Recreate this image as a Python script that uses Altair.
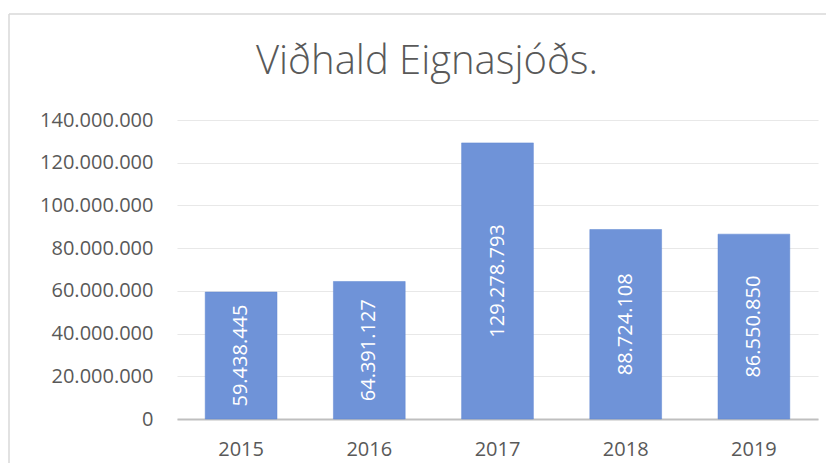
import altair as alt
import pandas as pd

years = ["2015", "2016", "2017", "2018", "2019"]
values = [59438445, 64391127, 129278793, 88724108, 86550850]
value_labels = ["59.438.445", "64.391.127", "129.278.793", "88.724.108", "86.550.850"]
title_text = "Viðhald Eignasjóðs."
y_ticks = [0, 20000000, 40000000, 60000000, 80000000, 100000000, 120000000, 140000000]

df = pd.DataFrame({"year": years, "value": values, "label": value_labels})
df["half"] = df["value"] / 2

W, H = 641, 299
FONT = "Open Sans"
GREY = "#595959"

x_scale = alt.Scale(paddingInner=0.44, paddingOuter=0.22)
x_enc = alt.X("year:N", title=None, sort=years, scale=x_scale,
              axis=alt.Axis(labelAngle=0, labelFontSize=20, labelColor=GREY, labelFont=FONT,
                            labelPadding=20, ticks=False, domain=True, domainColor="#bfbfbf",
                            domainWidth=2, grid=False))

bars = alt.Chart(df).mark_bar(color="#6f93d8", stroke="#5f86d0", strokeWidth=0.5).encode(
    x=x_enc,
    y=alt.Y("value:Q", title=None,
            scale=alt.Scale(domain=[0, 140000000], nice=False),
            axis=alt.Axis(values=y_ticks, labelFontSize=20, labelColor=GREY, labelFont=FONT,
                          labelPadding=24, ticks=False, domain=False, gridColor="#e8e8e8",
                          gridWidth=1.2,
                          labelExpr="replace(format(datum.value, ','), /,/g, '.')")),
)

texts = alt.Chart(df).mark_text(angle=270, align="center", baseline="middle",
                                color="white", fontSize=20, font=FONT).encode(
    x=alt.X("year:N", sort=years, scale=x_scale),
    y=alt.Y("half:Q"),
    text="label:N",
)

one = pd.DataFrame({"t": [title_text]})
title = alt.Chart(one).mark_text(font=FONT, fontSize=40, fontWeight=300, color=GREY,
                                 align="center", baseline="alphabetic").encode(
    x=alt.value(250), y=alt.value(-46), text="t:N")

frame_top = alt.Chart(one).mark_rule(color="#d9d9d9", strokeWidth=1.5).encode(
    x=alt.value(-168), x2=alt.value(W + 40), y=alt.value(-106))
frame_left = alt.Chart(one).mark_rule(color="#d9d9d9", strokeWidth=1.5).encode(
    x=alt.value(-168), y=alt.value(-106), y2=alt.value(H + 60))

chart = alt.layer(frame_top, frame_left, bars, texts, title).properties(
    width=W, height=H,
    background="white",
    autosize=alt.AutoSizeParams(type="none"),
    padding={"left": 169, "top": 112, "right": 8, "bottom": 44},
).configure_view(stroke="transparent", strokeWidth=0)

chart.save("out.html", embed_options={"renderer": "svg", "actions": False})
